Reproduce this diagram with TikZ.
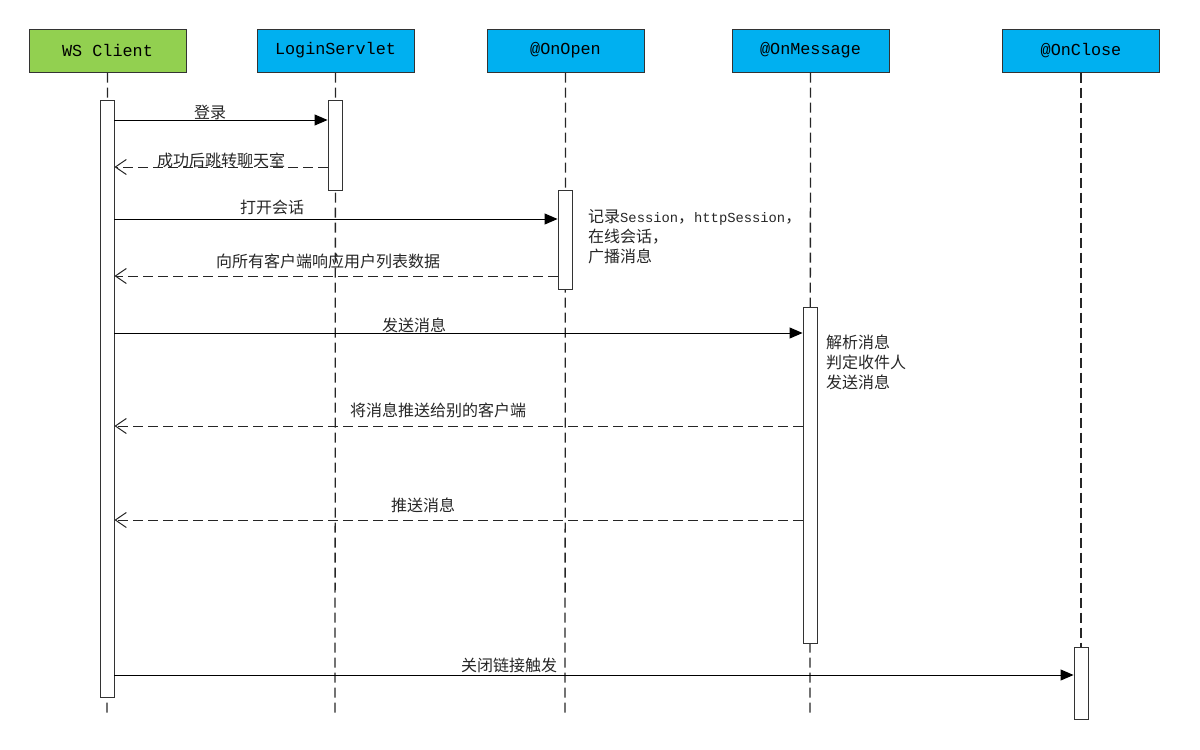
\documentclass[tikz,border=0pt]{standalone}
\usepackage{fontspec}
\setmonofont{Liberation Mono}
\newfontfamily\cjk{Noto Sans CJK SC}
\usetikzlibrary{arrows.meta}
\definecolor{hblue}{HTML}{00B0F0}
\definecolor{hgreen}{HTML}{92D050}
\definecolor{edge}{HTML}{333333}
\newcommand{\mn}[1]{{\fontsize{13.8}{20}\ttfamily #1}}
\begin{document}
\begin{tikzpicture}[x=1pt,y=-1pt,
  head/.style={draw=edge, line width=1pt, minimum width=157pt, minimum height=43pt, inner sep=0pt, font=\fontsize{16.8}{18}\ttfamily},
  act/.style={draw=edge, fill=white, line width=0.9pt, minimum width=14pt, inner sep=0pt},
  life/.style={draw=black!85, dash pattern=on 10pt off 5pt, line width=1.3pt},
  call/.style={draw=black, line width=1pt, -{Triangle[length=13pt,width=11pt]}},
  reply/.style={draw=black!85, line width=1pt, dash pattern=on 10pt off 5pt, -{Straight Barb[length=11pt,width=15pt]}},
  lbl/.style={font=\fontsize{16}{18}\cjk, inner sep=0pt, text=black!85},
  note/.style={font=\fontsize{16}{20}\cjk, inner sep=0pt, align=left, anchor=west, text=black!85},
]
\useasboundingbox (0,0) rectangle (1200,750);
% headers
\node[head, fill=hgreen] (hws) at (107.5,50.5) {WS Client};
\node[head, fill=hblue] (hls) at (335.5,50.5) {LoginServlet};
\node[head, fill=hblue] (hop) at (565.5,50.5) {@OnOpen};
\node[head, fill=hblue] (hmsg) at (810.5,50.5) {@OnMessage};
\node[head, fill=hblue] (hcl) at (1081,50.5) {@OnClose};
% lifeline ends
\coordinate (ews) at (107,714);
\coordinate (els) at (335,714);
\coordinate (eop) at (565,714);
\coordinate (emsg) at (810,714);
\coordinate (ecl) at (1081,714);
\draw[life] (hws.south) -- (ews);
\draw[life] (hls.south) -- (els);
\draw[life] (hop.south) -- (eop);
\draw[life] (hmsg.south) -- (emsg);
\draw[life] (hcl.south) -- (ecl);
% activations
\node[act, minimum height=597pt] (aws) at (107,398.5) {};
\node[act, minimum height=90pt] (als) at (335,145) {};
\node[act, minimum height=99pt] (aop) at (565,239.5) {};
\node[act, minimum height=336pt] (amsg) at (810,475) {};
\node[act, minimum height=72pt] (acl) at (1081,683) {};
% message levels
\coordinate (y1) at (0,120);
\coordinate (y2) at (0,167);
\coordinate (y3) at (0,219);
\coordinate (y4) at (0,276);
\coordinate (y5) at (0,333);
\coordinate (y6) at (0,426);
\coordinate (y7) at (0,520);
\coordinate (y8) at (0,675);
\draw[call] (aws.east |- y1) -- (als.west |- y1);
\draw[reply] (als.west |- y2) -- (aws.east |- y2);
\draw[call] (aws.east |- y3) -- (aop.west |- y3);
\draw[reply] (aop.west |- y4) -- (aws.east |- y4);
\draw[call] (aws.east |- y5) -- (amsg.west |- y5);
\draw[reply] (amsg.west |- y6) -- (aws.east |- y6);
\draw[reply] (amsg.west |- y7) -- (aws.east |- y7);
\draw[call] (aws.east |- y8) -- (acl.west |- y8);
% labels
\node[lbl] (l1) at (210,112) {登录};
\node[lbl] (l2) at (221,160) {成功后跳转聊天室};
\node[lbl] (l3) at (272,207) {打开会话};
\node[lbl] (l4) at (328,261) {向所有客户端响应用户列表数据};
\node[lbl] (l5) at (414,325) {发送消息};
\node[lbl] (l6) at (438,410) {将消息推送给别的客户端};
\node[lbl] (l7) at (423,505) {推送消息};
\node[lbl] (l8) at (509,665) {关闭链接触发};
% notes
\node[note] (n1) at (588,237) {记录\mn{Session}，\mn{httpSession}，\\在线会话，\\广播消息};
\node[note] (n2) at (826,362) {解析消息\\判定收件人\\发送消息};
\end{tikzpicture}
\end{document}
